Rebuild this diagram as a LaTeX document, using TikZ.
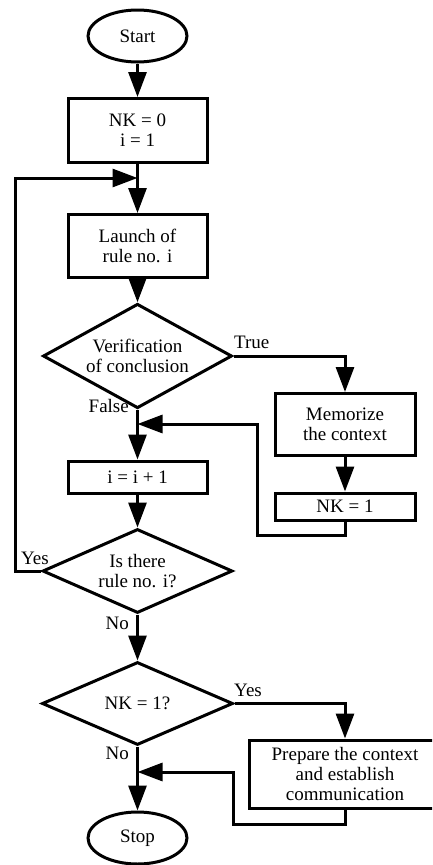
\documentclass[tikz,border=0pt]{standalone}
\usepackage{fontspec}
\setmainfont{Liberation Serif}
\usepackage{tikz}
\usetikzlibrary{shapes.geometric,arrows.meta,positioning}

\tikzset{
  proc/.style = {draw, shape = rectangle, line width = 3pt, align = center, inner sep = 0pt},
  term/.style = {draw, shape = ellipse, line width = 3pt, minimum width = 99pt, minimum height = 52pt, inner sep = 0pt},
  decide/.style = {draw, shape = diamond, line width = 3pt, align = center, inner sep = -8pt},
  arr/.style = {line width = 3pt, -{Triangle[length = 25pt, width = 18pt]}},
  conn/.style = {line width = 3pt},
  lbl/.style = {inner sep = 0pt}
}

\begin{document}
\begin{tikzpicture}[x = 1pt, y = -1pt, font = \fontsize{19}{20}\selectfont]
\useasboundingbox (0,0) rectangle (432,865);
\clip (0,0) rectangle (432,865);

\node[term] (start) at (137.5,36) {Start};
\node[proc, minimum width = 139pt, minimum height = 64pt] (init) at (137.5,130.5) {NK = 0\\i = 1};
\node[proc, minimum width = 139pt, minimum height = 63pt] (launch) at (137.5,246) {Launch of\\rule no. i};
\node[decide, minimum width = 189pt, minimum height = 82pt] (verif) at (137.5,356) {Verification\\of conclusion};
\node[proc, minimum width = 140pt, minimum height = 62pt] (memo) at (345,424.5) {Memorize\\the context};
\node[proc, minimum width = 140pt, minimum height = 27pt] (nkset) at (345,506.5) {NK = 1};
\node[proc, minimum width = 139pt, minimum height = 32pt] (incr) at (137.5,477) {i = i + 1};
\node[decide, minimum width = 190pt, minimum height = 84pt] (isrule) at (137.5,571) {Is there\\rule no. i?};
\node[decide, minimum width = 191pt, minimum height = 83pt] (nkq) at (137.5,703.5) {NK = 1?};
\node[proc, minimum width = 192pt, minimum height = 68pt] (prep) at (345,774) {Prepare the context\\and establish\\communication};
\node[term] (stop) at (137.5,838) {Stop};

% junctions on the main axis
\coordinate (j0) at (137.5,178);
\coordinate (j1) at (137.5,424);
\coordinate (j2) at (137.5,772);

\draw[arr] (start) -- (init);
\draw[arr] (init) -- (launch);
\draw[arr] (launch) -- (verif);
\draw[arr] (verif.east) -| (memo.north);
\draw[arr] (memo) -- (nkset);
\draw[arr] (nkset.south) |- (257,535) |- (j1);
\draw[arr] (verif.south) -- (incr.north);
\draw[arr] (incr) -- (isrule);
\draw[arr] (isrule.west) -| (15,178) -- (j0);
\draw[arr] (isrule.south) -- (nkq.north);
\draw[arr] (nkq.east) -| (prep.north);
\draw[arr] (prep.south) |- (233,824) |- (j2);
\draw[arr] (nkq.south) -- (stop.north);

\node[lbl, anchor = west] (ltrue) at (234,342) {True};
\node[lbl, anchor = east] (lfalse) at (129,406) {False};
\node[lbl] (lyes1) at (35,558) {Yes};
\node[lbl, anchor = east] (lno1) at (129,623) {No};
\node[lbl, anchor = west] (lyes2) at (234,690) {Yes};
\node[lbl, anchor = east] (lno2) at (129,753) {No};
\end{tikzpicture}
\end{document}
